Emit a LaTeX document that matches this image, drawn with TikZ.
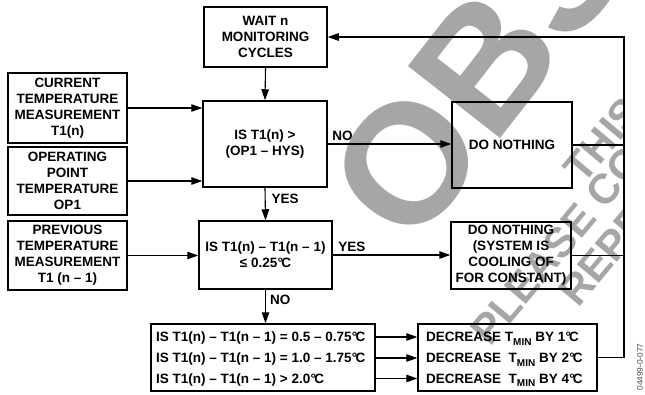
\documentclass[tikz,border=0pt]{standalone}
\usepackage{fontspec}
\setmainfont{Liberation Sans}
\usetikzlibrary{arrows.meta}
\newcommand{\dgc}{\kern0.3pt°\kern-1.8pt C}
\newcommand{\tmin}{T\raisebox{-3.5pt}{\fontsize{10}{10}\selectfont MIN}}
\begin{document}
\begin{tikzpicture}[x=1pt,y=-1pt,
  box/.style={draw, line width=1.5pt, inner sep=0pt, align=center,
    font=\bfseries\fontsize{13.5}{16}\selectfont},
  rowtxt/.style={inner sep=0pt, anchor=base west, font=\bfseries\fontsize{13.5}{16}\selectfont},
  conn/.style={line width=1.1pt},
  arr/.style={conn, -{Triangle[length=11pt,width=7.5pt]}},
  lbl/.style={inner sep=0pt, anchor=base west, font=\bfseries\fontsize{13.5}{16}\selectfont},
  wm/.style={text=black!35, inner sep=0pt, anchor=base west},
  sidelbl/.style={inner sep=0pt, rotate=90, text=black!70, font=\fontsize{8.3}{9}\selectfont}]
\useasboundingbox (0,0) rectangle (645,394);
% watermark
\begin{scope}
  \clip (0,0) rectangle (623,394);
  \node[wm, rotate=52, font=\bfseries\fontsize{170}{170}\selectfont] (wmo) at (412,252) {OBSOLETE};
  \node[wm, rotate=50, font=\bfseries\fontsize{42}{42}\selectfont] (wm1) at (583,186) {THIS DOC};
  \node[wm, rotate=50, font=\bfseries\fontsize{42}{42}\selectfont] (wm2) at (490,348) {PLEASE CONTACT};
  \node[wm, rotate=50, font=\bfseries\fontsize{42}{42}\selectfont] (wm3) at (578,309) {REPR};
\end{scope}
% boxes
\node[box, minimum width=123pt, minimum height=60pt] (wait) at (265.5,37) {WAIT n\\MONITORING\\CYCLES};
\node[box, minimum width=119pt, minimum height=70pt] (cur) at (67.5,108) {CURRENT\\TEMPERATURE\\MEASUREMENT\\T1(n)};
\node[box, minimum width=119pt, minimum height=68pt] (op) at (67.5,181) {OPERATING\\POINT\\TEMPERATURE\\OP1};
\node[box, minimum width=119pt, minimum height=69pt] (prev) at (67.5,255.5) {PREVIOUS\\TEMPERATURE\\MEASUREMENT\\T1 (n -- 1)};
\node[box, minimum width=124pt, minimum height=86pt] (is1) at (265,144) {IS T1(n) >\\(OP1 -- HYS)};
\node[box, minimum width=133pt, minimum height=68pt] (is2) at (265.5,255) {IS T1(n) -- T1(n -- 1)\\≤ 0.25\dgc};
\node[box, minimum width=120pt, minimum height=86pt] (dn1) at (512,145) {DO NOTHING};
\node[box, minimum width=120pt, minimum height=67pt] (dn2) at (511,255.5) {DO NOTHING\\(SYSTEM IS\\COOLING OF\\FOR CONSTANT)};
\node[box, minimum width=224pt, minimum height=67pt] (list) at (263,357.5) {};
\node[box, minimum width=179pt, minimum height=67pt] (dec) at (507.5,357.5) {};
% rows
\node[rowtxt] (l1) at (156,341.5) {IS T1(n) -- T1(n -- 1) = 0.5 -- 0.75\dgc};
\node[rowtxt] (l2) at (156,362.5) {IS T1(n) -- T1(n -- 1) = 1.0 -- 1.75\dgc};
\node[rowtxt] (l3) at (156,383) {IS T1(n) -- T1(n -- 1) > 2.0\dgc};
\node[rowtxt] (d1) at (426,341.5) {DECREASE \tmin\ BY 1\dgc};
\node[rowtxt] (d2) at (426,362.5) {DECREASE \ \tmin\ BY 2\dgc};
\node[rowtxt] (d3) at (426,383) {DECREASE \ \tmin\ BY 4\dgc};
\coordinate (r1) at ([yshift=4.5pt]l1.base);
\coordinate (r2) at ([yshift=4.5pt]l2.base);
\coordinate (r3) at ([yshift=4.5pt]l3.base);
\coordinate (fb) at (624,0);
% side label
\node[sidelbl] (code) at (640,367) {04499-0-077};
% connectors
\draw[arr] (wait.south) -- (is1.north);
\draw[arr] (cur.east) -- (cur.east -| is1.west);
\draw[arr] (op.east) -- (op.east -| is1.west);
\draw[arr] (prev.east) -- (prev.east -| is2.west);
\draw[arr] (is1.south) -- node[lbl, at start, xshift=6pt, yshift=-16pt] {YES} (is2.north);
\draw[arr] (is2.south) -- node[lbl, at start, xshift=4pt, yshift=-15pt] {NO} (is2.south |- list.north);
\draw[arr] (is1.east) -- node[lbl, at start, xshift=4pt, yshift=4pt] {NO} (is1.east -| dn1.west);
\draw[arr] (is2.east) -- node[lbl, at start, xshift=5pt, yshift=4pt] {YES} (is2.east -| dn2.west);
\draw[arr] (list.east |- r1) -- (dec.west |- r1);
\draw[arr] (list.east |- r2) -- (dec.west |- r2);
\draw[arr] (list.east |- r3) -- (dec.west |- r3);
\draw[conn] (dn1.east) -- (dn1.east -| fb);
\draw[conn] (dn2.east) -- (dn2.east -| fb);
\draw[arr] (dec.east) -- (dec.east -| fb) -- (fb |- wait.east) -- (wait.east);
\end{tikzpicture}
\end{document}
